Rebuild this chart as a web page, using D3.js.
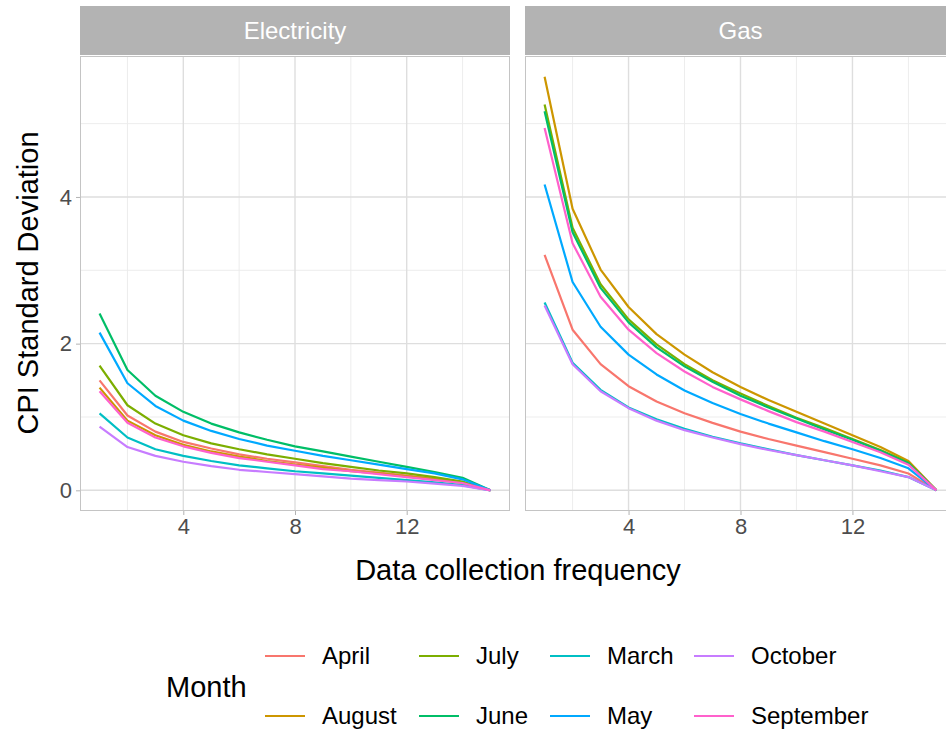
<!DOCTYPE html>
<html><head><meta charset="utf-8">
<script src="https://cdn.jsdelivr.net/npm/d3@7"></script>
<style>body{margin:0;background:#fff}svg{display:block;font-family:"Liberation Sans",Arial,sans-serif}</style>
</head><body><svg id="c" width="946" height="733"></svg>
<script>
const xs = [1,2,3,4,5,6,7,8,9,10,11,12,13,14,15];
const months = ["April","August","July","June","March","May","October","September"];
const colors = ["#F8766D","#CD9600","#7CAE00","#00BE67","#00BFC4","#00A9FF","#C77CFF","#FF61CC"];
const facets = ["Electricity","Gas"];
const xTicks = [4,8,12];
const yTicks = [0,2,4];

const elecApril     = [1.50,1.02,0.80,0.66,0.57,0.49,0.43,0.38,0.33,0.28,0.24,0.20,0.16,0.11,0];
const elecAugust    = [1.40,0.95,0.75,0.62,0.53,0.46,0.40,0.35,0.31,0.26,0.23,0.19,0.15,0.10,0];
const elecJuly      = [1.70,1.16,0.91,0.75,0.64,0.56,0.49,0.43,0.37,0.32,0.27,0.23,0.18,0.12,0];
const elecJune      = [2.41,1.64,1.29,1.07,0.91,0.79,0.69,0.60,0.53,0.46,0.39,0.32,0.25,0.17,0];
const elecMarch     = [1.05,0.72,0.56,0.47,0.40,0.34,0.30,0.26,0.23,0.20,0.17,0.14,0.11,0.07,0];
const elecMay       = [2.15,1.46,1.15,0.95,0.81,0.70,0.61,0.54,0.47,0.41,0.35,0.29,0.23,0.15,0];
const elecOctober   = [0.87,0.59,0.47,0.39,0.33,0.28,0.25,0.22,0.19,0.16,0.14,0.12,0.09,0.06,0];
const elecSeptember = [1.35,0.92,0.72,0.60,0.51,0.44,0.39,0.34,0.29,0.26,0.22,0.18,0.14,0.10,0];

const gasApril     = [3.21,2.19,1.72,1.42,1.21,1.05,0.92,0.80,0.70,0.61,0.52,0.43,0.34,0.23,0];
const gasAugust    = [5.64,3.84,3.01,2.50,2.13,1.85,1.61,1.41,1.23,1.07,0.91,0.75,0.59,0.40,0];
const gasJuly      = [5.26,3.58,2.81,2.33,1.99,1.72,1.50,1.32,1.15,0.99,0.85,0.70,0.55,0.38,0];
const gasJune      = [5.17,3.52,2.76,2.29,1.95,1.69,1.48,1.29,1.13,0.98,0.83,0.69,0.54,0.37,0];
const gasMarch     = [2.56,1.74,1.37,1.13,0.97,0.84,0.73,0.64,0.56,0.48,0.41,0.34,0.27,0.18,0];
const gasMay       = [4.17,2.84,2.23,1.85,1.58,1.36,1.19,1.04,0.91,0.79,0.67,0.56,0.44,0.30,0];
const gasOctober   = [2.52,1.72,1.35,1.12,0.95,0.82,0.72,0.63,0.55,0.48,0.41,0.34,0.26,0.18,0];
const gasSeptember = [4.94,3.37,2.64,2.19,1.87,1.62,1.41,1.24,1.08,0.93,0.80,0.66,0.52,0.35,0];

const seriesByFacet = {
  Electricity: [elecApril,elecAugust,elecJuly,elecJune,elecMarch,elecMay,elecOctober,elecSeptember],
  Gas: [gasApril,gasAugust,gasJuly,gasJune,gasMarch,gasMay,gasOctober,gasSeptember]
};

const svg = d3.select("#c");
const panelTop = 56, panelBottom = 511, stripTop = 6;
const panels = [{name:"Electricity", x0:80, x1:510},{name:"Gas", x0:525, x1:956}];
const color = d3.scaleOrdinal().domain(months).range(colors);
const y = d3.scaleLinear().domain([-0.282, 5.922]).range([panelBottom, panelTop]);
const textCol = "#4D4D4D";
const tickSize = 22, small = 24, big = 29;

const defs = svg.append("defs");
panels.forEach((p,i)=>{
  const x = d3.scaleLinear().domain([0.3,15.7]).range([p.x0,p.x1]);
  const g = svg.append("g");
  defs.append("clipPath").attr("id","clip"+i).append("rect")
    .attr("x",p.x0).attr("y",panelTop).attr("width",p.x1-p.x0).attr("height",panelBottom-panelTop);
  [2,6,10,14].forEach(v=>g.append("line").attr("x1",x(v)).attr("x2",x(v)).attr("y1",panelTop).attr("y2",panelBottom).attr("stroke","#EBEBEB").attr("stroke-width",0.9));
  [1,3,5].forEach(v=>g.append("line").attr("y1",y(v)).attr("y2",y(v)).attr("x1",p.x0).attr("x2",p.x1).attr("stroke","#EBEBEB").attr("stroke-width",0.9));
  xTicks.forEach(v=>g.append("line").attr("x1",x(v)).attr("x2",x(v)).attr("y1",panelTop).attr("y2",panelBottom).attr("stroke","#DEDEDE").attr("stroke-width",1.4));
  yTicks.forEach(v=>g.append("line").attr("y1",y(v)).attr("y2",y(v)).attr("x1",p.x0).attr("x2",p.x1).attr("stroke","#DEDEDE").attr("stroke-width",1.4));
  const line = d3.line().x((d,j)=>x(xs[j])).y(d=>y(d));
  const lg = g.append("g").attr("clip-path","url(#clip"+i+")");
  seriesByFacet[p.name].forEach((s,k)=>{
    lg.append("path").datum(s).attr("d",line).attr("fill","none")
      .attr("stroke",color(months[k])).attr("stroke-width",2.2).attr("stroke-linejoin","round");
  });
  g.append("rect").attr("x",p.x0+0.5).attr("y",panelTop+0.5).attr("width",p.x1-p.x0-1).attr("height",panelBottom-panelTop-1)
    .attr("fill","none").attr("stroke","#C4C4C4").attr("stroke-width",1);
  g.append("rect").attr("x",p.x0).attr("y",stripTop).attr("width",p.x1-p.x0).attr("height",panelTop-stripTop-1).attr("fill","#B3B3B3");
  g.append("text").attr("x",(p.x0+p.x1)/2).attr("y",(stripTop+panelTop)/2).attr("dy","0.35em")
    .attr("text-anchor","middle").attr("fill","#fff").attr("font-size",small).text(p.name);
  const xa = g.append("g").attr("transform",`translate(0,${panelBottom})`)
    .call(d3.axisBottom(x).tickValues(xTicks).tickFormat(d3.format("d")).tickSize(4).tickPadding(3));
  xa.select(".domain").remove();
  xa.selectAll(".tick line").attr("stroke","#B3B3B3");
  xa.selectAll("text").attr("fill",textCol).style("font-size",tickSize+"px").style("font-family","Liberation Sans, Arial, sans-serif");
  if(i===0){
    const ya = g.append("g").attr("transform",`translate(${p.x0},0)`)
      .call(d3.axisLeft(y).tickValues(yTicks).tickFormat(d3.format("d")).tickSize(4).tickPadding(4));
    ya.select(".domain").remove();
    ya.selectAll(".tick line").attr("stroke","#B3B3B3");
    ya.selectAll("text").attr("fill",textCol).style("font-size",tickSize+"px").style("font-family","Liberation Sans, Arial, sans-serif");
  }
});
svg.append("text").attr("x",518).attr("y",570).attr("dy","0.35em").attr("text-anchor","middle").attr("font-size",big).attr("fill","#000").text("Data collection frequency");
svg.append("text").attr("transform","translate(28,283) rotate(-90)").attr("dy","0.35em").attr("text-anchor","middle").attr("font-size",big).attr("fill","#000").text("CPI Standard Deviation");

const leg = svg.append("g");
leg.append("text").attr("x",166).attr("y",687).attr("dy","0.35em").attr("font-size",big).attr("fill","#000").text("Month");
const colX = [265, 419, 550, 694];
const rowY = [656, 716];
months.forEach((m,k)=>{
  const c = Math.floor(k/2), r = k%2;
  leg.append("line").attr("x1",colX[c]).attr("x2",colX[c]+40).attr("y1",rowY[r]).attr("y2",rowY[r])
    .attr("stroke",color(m)).attr("stroke-width",2.2);
  leg.append("text").attr("x",colX[c]+57).attr("y",rowY[r]).attr("dy","0.35em").attr("font-size",small).attr("fill","#000").text(m);
});
</script></body></html>
